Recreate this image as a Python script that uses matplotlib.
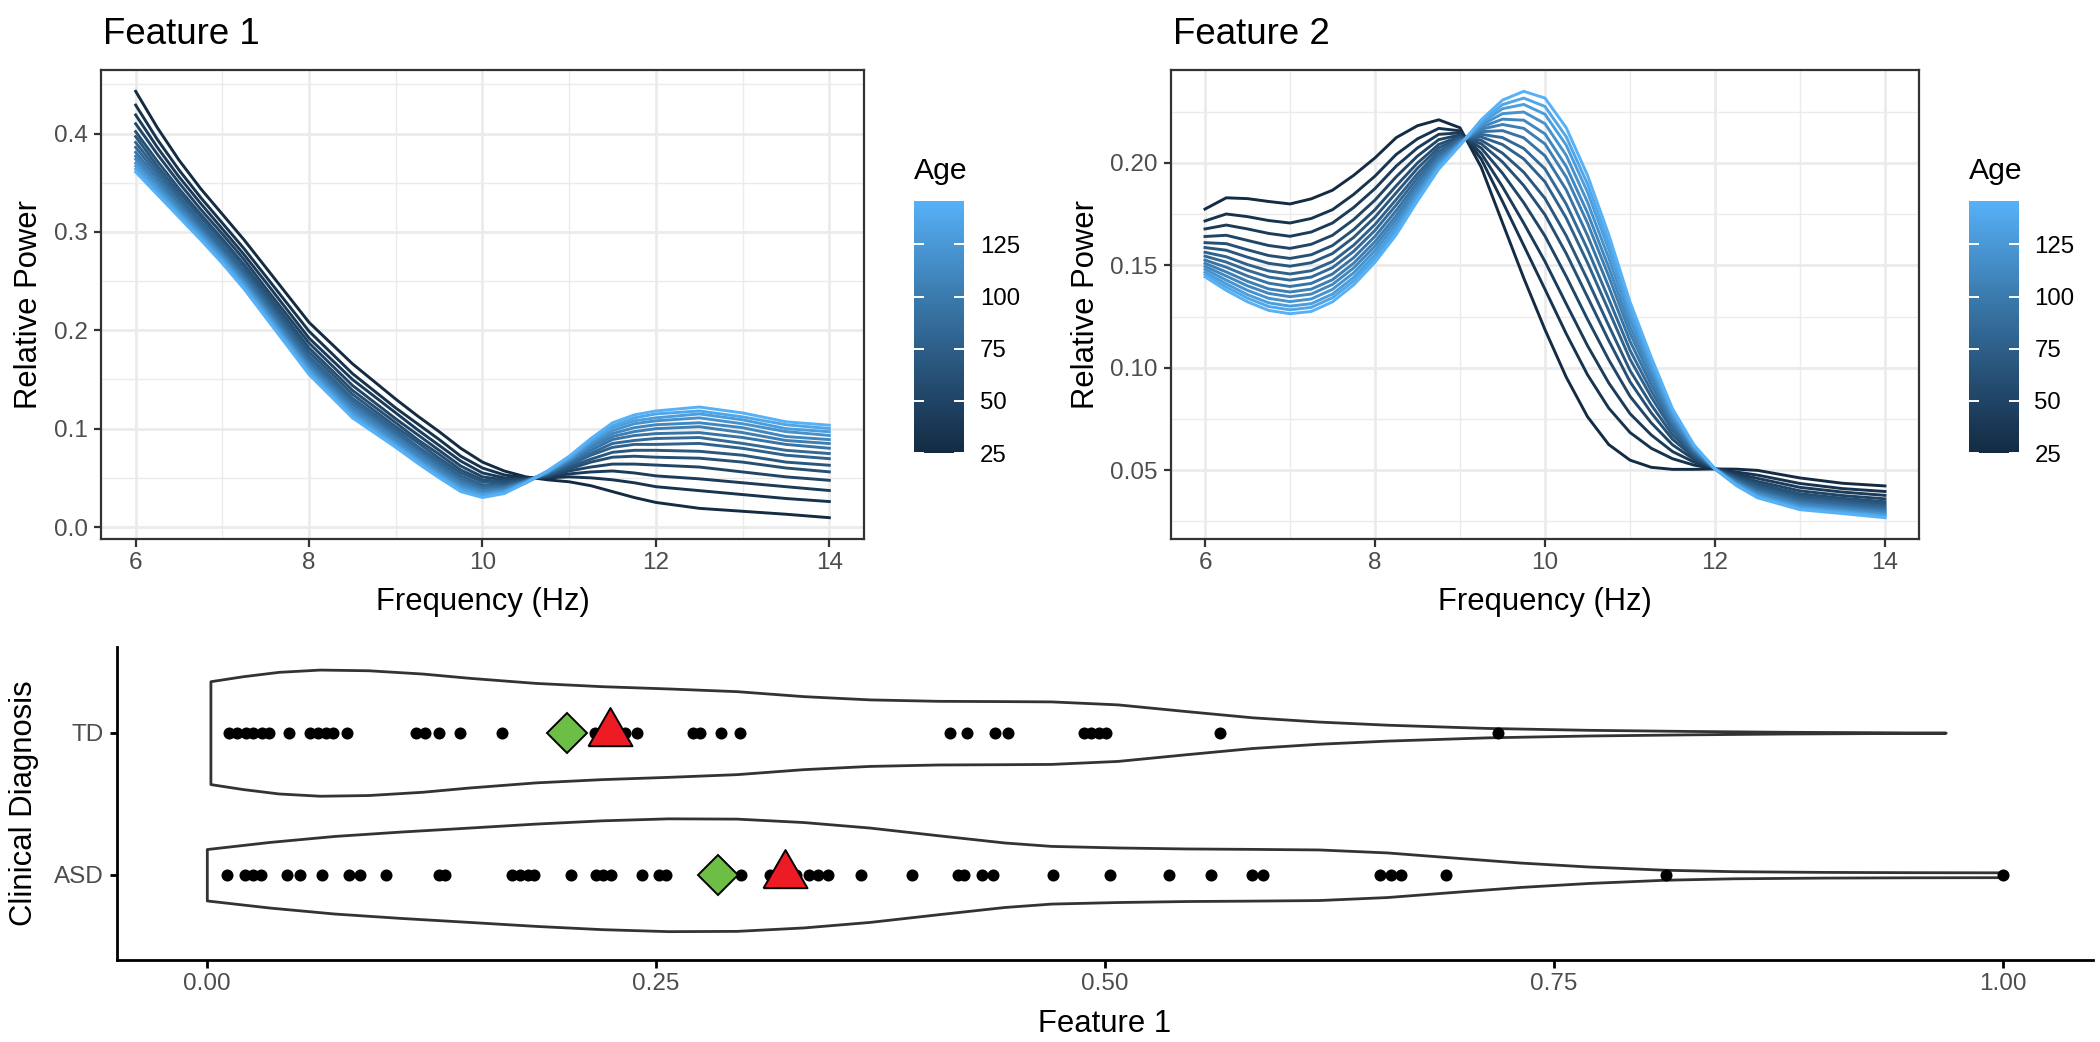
import numpy as np
import matplotlib
matplotlib.use("Agg")
import matplotlib.pyplot as plt
from matplotlib.colors import ListedColormap, Normalize
from matplotlib.cm import ScalarMappable

plt.rcParams['font.family'] = ['Liberation Sans', 'DejaVu Sans']

# ---------------- data ----------------
ages = [25, 34, 42, 51, 60, 68, 77, 85, 94, 103, 111, 120, 129, 137, 146]
age_ticks = [25, 50, 75, 100, 125]

# Feature 1: one row per frequency, one column per age (same order as `ages`)
freq1 = [6, 6.25, 6.5, 6.75, 7, 7.25, 7.5, 8, 8.5, 9, 9.25, 9.5, 9.75, 10, 10.25, 10.5,
         10.75, 11, 11.25, 11.5, 11.75, 12, 12.5, 13, 13.5, 14]
feature1_power = [
    [.443, .429, .419, .410, .402, .397, .391, .386, .381, .377, .374, .370, .367, .364, .361],
    [.406, .394, .386, .379, .372, .367, .363, .359, .355, .351, .349, .346, .343, .340, .338],
    [.373, .363, .356, .350, .344, .340, .336, .333, .329, .326, .324, .321, .319, .317, .315],
    [.344, .335, .329, .323, .318, .315, .311, .308, .305, .302, .300, .298, .296, .294, .292],
    [.318, .309, .303, .298, .293, .290, .286, .283, .280, .278, .276, .274, .272, .270, .268],
    [.292, .283, .277, .272, .267, .264, .260, .257, .255, .252, .250, .248, .246, .244, .242],
    [.264, .255, .249, .243, .239, .235, .231, .229, .226, .223, .221, .219, .217, .215, .213],
    [.208, .199, .192, .187, .182, .178, .174, .171, .168, .165, .163, .161, .159, .157, .155],
    [.166, .156, .150, .144, .139, .135, .131, .128, .125, .122, .120, .117, .115, .113, .111],
    [.130, .121, .116, .110, .106, .102, .099, .096, .093, .091, .089, .086, .084, .083, .081],
    [.113, .105, .099, .094, .089, .086, .082, .080, .077, .075, .072, .070, .068, .067, .065],
    [.097, .089, .083, .078, .074, .070, .067, .064, .062, .059, .057, .055, .053, .052, .050],
    [.080, .072, .067, .062, .058, .055, .052, .049, .047, .045, .043, .041, .039, .038, .036],
    [.066, .060, .055, .051, .048, .046, .043, .041, .039, .037, .036, .034, .033, .031, .030],
    [.057, .053, .050, .048, .046, .044, .042, .041, .040, .039, .038, .037, .036, .035, .034],
    [.051, .050, .049, .049, .048, .048, .047, .047, .047, .046, .046, .046, .045, .045, .045],
    [.048, .050, .051, .052, .052, .053, .054, .054, .055, .055, .056, .056, .056, .057, .057],
    [.046, .051, .054, .057, .059, .061, .063, .064, .066, .067, .068, .069, .070, .071, .072],
    [.042, .050, .056, .061, .066, .069, .073, .075, .078, .081, .083, .085, .087, .088, .090],
    [.036, .048, .057, .064, .071, .076, .081, .085, .089, .092, .095, .098, .101, .103, .106],
    [.030, .045, .055, .064, .072, .078, .084, .088, .093, .097, .101, .105, .108, .111, .114],
    [.025, .041, .052, .063, .071, .078, .084, .090, .095, .100, .104, .108, .111, .115, .118],
    [.019, .037, .049, .061, .070, .077, .085, .091, .096, .102, .106, .111, .115, .118, .122],
    [.016, .033, .045, .056, .066, .073, .080, .085, .091, .096, .101, .105, .109, .112, .116],
    [.013, .029, .041, .051, .060, .066, .073, .078, .084, .088, .092, .097, .100, .104, .107],
    [.0095, .0259, .0371, .0475, .0561, .0628, .0695, .0747, .0801, .0849, .0889, .0931,
     .0969, .1001, .1035],
]

# Feature 2: one row per frequency, one column per age
freq2 = [6, 6.25, 6.5, 6.75, 7, 7.25, 7.5, 7.75, 8, 8.25, 8.5, 8.75, 9, 9.25, 9.5, 9.75,
         10, 10.25, 10.5, 10.75, 11, 11.25, 11.5, 11.75, 12, 12.25, 12.5, 13, 13.5, 14]
feature2_power = [
    [.1775, .1717, .1678, .1641, .1611, .1587, .1564, .1545, .1526, .1510, .1495, .1481, .1467, .1456, .1444],
    [.1830, .1751, .1697, .1647, .1606, .1574, .1542, .1516, .1491, .1468, .1448, .1428, .1410, .1394, .1378],
    [.1826, .1738, .1678, .1622, .1576, .1540, .1504, .1476, .1448, .1422, .1400, .1378, .1357, .1340, .1322],
    [.1812, .1719, .1656, .1597, .1548, .1510, .1473, .1443, .1413, .1385, .1363, .1339, .1317, .1299, .1280],
    [.1800, .1707, .1642, .1583, .1534, .1496, .1458, .1428, .1397, .1370, .1347, .1323, .1301, .1283, .1264],
    [.1825, .1729, .1663, .1603, .1552, .1513, .1474, .1443, .1412, .1384, .1360, .1336, .1313, .1295, .1275],
    [.1867, .1772, .1707, .1647, .1597, .1558, .1519, .1489, .1458, .1430, .1407, .1383, .1360, .1342, .1322],
    [.1940, .1847, .1783, .1724, .1675, .1637, .1599, .1569, .1538, .1511, .1488, .1464, .1442, .1424, .1405],
    [.2025, .1936, .1875, .1819, .1772, .1736, .1700, .1671, .1642, .1616, .1594, .1572, .1551, .1533, .1515],
    [.2124, .2042, .1985, .1933, .1889, .1855, .1822, .1795, .1768, .1744, .1724, .1703, .1683, .1667, .1650],
    [.2182, .2118, .2074, .2034, .2000, .1974, .1948, .1927, .1906, .1888, .1872, .1856, .1841, .1828, .1815],
    [.2211, .2169, .2140, .2114, .2091, .2074, .2057, .2044, .2030, .2018, .2007, .1997, .1987, .1979, .1970],
    [.2172, .2157, .2147, .2137, .2129, .2123, .2117, .2112, .2107, .2103, .2099, .2096, .2092, .2089, .2086],
    [.1979, .2019, .2047, .2073, .2094, .2111, .2127, .2140, .2153, .2165, .2175, .2185, .2195, .2203, .2211],
    [.1708, .1812, .1884, .1950, .2005, .2048, .2090, .2124, .2158, .2188, .2214, .2241, .2265, .2285, .2307],
    [.1438, .1597, .1706, .1806, .1890, .1955, .2020, .2071, .2123, .2169, .2209, .2249, .2286, .2317, .2350],
    [.1186, .1383, .1519, .1643, .1747, .1827, .1908, .1971, .2035, .2093, .2142, .2192, .2238, .2276, .2317],
    [.0954, .1166, .1312, .1446, .1558, .1645, .1731, .1799, .1869, .1931, .1983, .2037, .2087, .2128, .2172],
    [.0761, .0966, .1108, .1237, .1346, .1430, .1513, .1579, .1646, .1707, .1757, .1809, .1858, .1898, .1940],
    [.0625, .0803, .0926, .1039, .1133, .1206, .1279, .1336, .1395, .1447, .1491, .1536, .1578, .1613, .1650],
    [.0549, .0684, .0776, .0861, .0932, .0987, .1042, .1086, .1130, .1169, .1202, .1236, .1268, .1294, .1322],
    [.0514, .0607, .0672, .0731, .0780, .0819, .0857, .0887, .0917, .0945, .0968, .0991, .1013, .1032, .1051],
    [.0504, .0556, .0591, .0624, .0651, .0672, .0693, .0709, .0726, .0741, .0754, .0767, .0779, .0789, .0800],
    [.0504, .0525, .0540, .0553, .0564, .0573, .0581, .0588, .0595, .0601, .0606, .0612, .0617, .0621, .0625],
    [.0506, .0506, .0506, .0506, .0506, .0506, .0506, .0506, .0506, .0506, .0506, .0506, .0506, .0506, .0506],
    [.0505, .0491, .0482, .0473, .0465, .0460, .0454, .0450, .0445, .0441, .0437, .0434, .0431, .0428, .0425],
    [.0499, .0476, .0460, .0445, .0433, .0423, .0414, .0406, .0398, .0392, .0386, .0380, .0374, .0370, .0365],
    [.0462, .0435, .0416, .0399, .0385, .0374, .0363, .0354, .0346, .0338, .0331, .0324, .0318, .0313, .0307],
    [.0436, .0410, .0393, .0376, .0363, .0352, .0342, .0333, .0325, .0317, .0311, .0304, .0298, .0293, .0288],
    [.0423, .0396, .0377, .0360, .0346, .0335, .0324, .0315, .0307, .0299, .0292, .0285, .0279, .0274, .0268],
]

groups = ["ASD", "TD"]
td_points = [0.0122, 0.0169, 0.0216, 0.0258, 0.0305, 0.0344, 0.0457, 0.0572, 0.0619,
             0.0661, 0.0703, 0.0778, 0.1165, 0.1212, 0.1294, 0.1411, 0.1641, 0.2162,
             0.2326, 0.2396, 0.2706, 0.2748, 0.2865, 0.2970, 0.4139, 0.4232, 0.4389,
             0.4460, 0.4882, 0.4924, 0.4967, 0.5006, 0.5639, 0.7187]
asd_points = [0.0111, 0.0213, 0.0256, 0.0299, 0.0444, 0.0516, 0.0640, 0.0793, 0.0853,
              0.0998, 0.1290, 0.1326, 0.1701, 0.1744, 0.1787, 0.1823, 0.2030, 0.2164,
              0.2207, 0.2250, 0.2420, 0.2516, 0.2554, 0.2974, 0.3134, 0.3280, 0.3350,
              0.3400, 0.3460, 0.3641, 0.3923, 0.4179, 0.4213, 0.4313, 0.4377, 0.4708,
              0.5027, 0.5358, 0.5592, 0.5816, 0.5880, 0.6530, 0.6590, 0.6645, 0.6899,
              0.8124, 1.0]
diamond_values = [0.2847, 0.2007]   # ASD, TD
triangle_values = [0.3216, 0.2246]  # ASD, TD

td_violin_x = [0.002, 0.02, 0.04, 0.063, 0.09, 0.12, 0.146, 0.183, 0.22, 0.257, 0.295,
               0.332, 0.369, 0.407, 0.444, 0.47, 0.507, 0.545, 0.582, 0.619, 0.657,
               0.713, 0.769, 0.825, 0.88, 0.93, 0.968]
td_violin_hw = [0.362, 0.397, 0.428, 0.444, 0.439, 0.416, 0.386, 0.350, 0.327, 0.311,
                0.292, 0.257, 0.234, 0.224, 0.222, 0.220, 0.199, 0.152, 0.108, 0.078,
                0.056, 0.033, 0.020, 0.012, 0.006, 0.003, 0.0]
asd_violin_x = [0.0, 0.035, 0.071, 0.108, 0.146, 0.183, 0.22, 0.257, 0.295, 0.332,
                0.369, 0.407, 0.444, 0.47, 0.507, 0.545, 0.582, 0.619, 0.657, 0.694,
                0.731, 0.769, 0.812, 0.85, 0.9, 0.95, 1.0]
asd_violin_hw = [0.181, 0.231, 0.273, 0.304, 0.332, 0.360, 0.383, 0.397, 0.395, 0.371,
                 0.332, 0.278, 0.227, 0.203, 0.192, 0.185, 0.182, 0.178, 0.157, 0.121,
                 0.086, 0.058, 0.035, 0.025, 0.020, 0.018, 0.017]

# ---------------- colours (ggplot2 default gradient, Lab interpolation) ----------------
def _hex(h):
    h = h.lstrip('#')
    return np.array([int(h[i:i + 2], 16) / 255 for i in (0, 2, 4)])

_M = np.array([[0.4124564, 0.3575761, 0.1804375],
               [0.2126729, 0.7151522, 0.0721750],
               [0.0193339, 0.1191920, 0.9503041]])
_WP = np.array([0.95047, 1.0, 1.08883])

def _to_lab(rgb):
    lin = np.where(rgb <= 0.04045, rgb / 12.92, ((rgb + 0.055) / 1.055) ** 2.4)
    xyz = _M @ lin / _WP
    d = 6 / 29
    f = np.where(xyz > d ** 3, np.cbrt(xyz), xyz / (3 * d * d) + 4 / 29)
    return np.array([116 * f[1] - 16, 500 * (f[0] - f[1]), 200 * (f[1] - f[2])])

def _from_lab(lab):
    d = 6 / 29
    fy = (lab[0] + 16) / 116
    f = np.array([fy + lab[1] / 500, fy, fy - lab[2] / 200])
    xyz = np.where(f > d, f ** 3, 3 * d * d * (f - 4 / 29)) * _WP
    lin = np.linalg.inv(_M) @ xyz
    rgb = np.where(lin <= 0.0031308, 12.92 * lin, 1.055 * np.clip(lin, 0, None) ** (1 / 2.4) - 0.055)
    return np.clip(rgb, 0, 1)

lab_lo, lab_hi = _to_lab(_hex('#132B43')), _to_lab(_hex('#56B1F7'))
cmap = ListedColormap([_from_lab(lab_lo + t * (lab_hi - lab_lo)) for t in np.linspace(0, 1, 256)])
norm = Normalize(min(ages), max(ages))

# ---------------- figure ----------------
W, H = 2100, 1042
fig = plt.figure(figsize=(W / 100, H / 100), dpi=100)

def rect(l, t, r, b):
    return [l / W, 1 - b / H, (r - l) / W, (b - t) / H]

def ftext(x, y, s, **kw):
    fig.text(x / W, 1 - y / H, s, **kw)

GRID = '#EBEBEB'
DARK = '#333333'
TICKLAB = '#4D4D4D'

def style_top(ax):
    for s in ax.spines.values():
        s.set_color(DARK)
        s.set_linewidth(1.6)
    ax.grid(which='major', color=GRID, linewidth=2.0)
    ax.grid(which='minor', color=GRID, linewidth=1.0)
    ax.set_axisbelow(True)
    ax.tick_params(which='major', length=5.4, width=1.6, color=DARK, labelsize=17.5,
                   labelcolor=TICKLAB, pad=4.3)
    ax.tick_params(which='minor', length=0)

def draw_panel(ax, freq, table):
    arr = np.array(table)
    for j, a in enumerate(ages):
        ax.plot(freq, arr[:, j], color=cmap(norm(a)), linewidth=2.1,
                solid_joinstyle='round', zorder=3)
    lo, hi = arr.min(), arr.max()
    pad = 0.05 * (hi - lo)
    ax.set_ylim(lo - pad, hi + pad)
    ax.set_xlim(5.6, 14.4)
    ax.set_xticks([6, 8, 10, 12, 14])
    ax.set_xticks([7, 9, 11, 13], minor=True)
    style_top(ax)

ax1 = fig.add_axes(rect(101, 70, 864, 539))
draw_panel(ax1, freq1, feature1_power)
ax1.set_yticks([0, 0.1, 0.2, 0.3, 0.4])
ax1.set_yticklabels(['0.0', '0.1', '0.2', '0.3', '0.4'])
ax1.set_yticks([0.05, 0.15, 0.25, 0.35, 0.45], minor=True)

ax2 = fig.add_axes(rect(1171, 70, 1919, 539))
draw_panel(ax2, freq2, feature2_power)
ax2.set_yticks([0.05, 0.10, 0.15, 0.20])
ax2.set_yticklabels(['0.05', '0.10', '0.15', '0.20'])
ax2.set_yticks([0.025, 0.075, 0.125, 0.175, 0.225], minor=True)

for ax, l, r, title in [(ax1, 101, 864, 'Feature 1'), (ax2, 1171, 1919, 'Feature 2')]:
    ftext(l + 2, 44, title, fontsize=26.4, ha='left', va='baseline', color='black')
    ftext((l + r) / 2, 610, 'Frequency (Hz)', fontsize=22.3, ha='center', va='baseline')

ftext(37.5, 304.5, 'Relative Power', fontsize=22.3, rotation=90, rotation_mode='anchor',
      ha='center', va='baseline')
ftext(1093.5, 304.5, 'Relative Power', fontsize=22.3, rotation=90, rotation_mode='anchor',
      ha='center', va='baseline')

# colourbars
for l in (914, 1968.6):
    cax = fig.add_axes(rect(l, 200.7, l + 50.4, 453))
    cb = fig.colorbar(ScalarMappable(norm=norm, cmap=cmap), cax=cax)
    cb.outline.set_visible(False)
    cb.set_ticks(age_ticks)
    cb.set_ticklabels([str(t) for t in age_ticks])
    cax.minorticks_off()
    cax.tick_params(which='major', direction='in', length=7, width=1.4, color='white',
                    left=True, right=True, labelsize=17.3, labelcolor='black', pad=11)
    ftext(l, 178.6, 'Age', fontsize=21.7, ha='left', va='baseline')

# bottom violin panel
ax3 = fig.add_axes(rect(117, 647.4, 2093, 960))
ax3.set_xlim(-0.05, 1.05)
ax3.set_ylim(0.4, 2.6)
for name in ('top', 'right'):
    ax3.spines[name].set_visible(False)
for name in ('left', 'bottom'):
    ax3.spines[name].set_color('black')
    ax3.spines[name].set_linewidth(2.0)
ax3.tick_params(length=5.4, width=2.0, color='black', labelsize=17.5, labelcolor=TICKLAB, pad=4.3)
ax3.set_xticks([0, 0.25, 0.5, 0.75, 1.0])
ax3.set_xticklabels(['0.00', '0.25', '0.50', '0.75', '1.00'])
ax3.set_yticks([1, 2])
ax3.set_yticklabels(groups)

violins = {'ASD': (asd_violin_x, asd_violin_hw, asd_points),
           'TD': (td_violin_x, td_violin_hw, td_points)}
tri = [(-1, -0.57735), (1, -0.57735), (0, 1.1547), (-1, -0.57735)]
for i, g in enumerate(groups):
    pos = i + 1
    vx, hw, pts = violins[g]
    vx = np.array(vx); hw = np.array(hw)
    ax3.fill_between(vx, pos - hw, pos + hw, facecolor='white', edgecolor=DARK,
                     linewidth=2.0, zorder=2)
    ax3.scatter(pts, [pos] * len(pts), s=75, color='black', linewidths=0, zorder=3)
    ax3.plot([diamond_values[i]], [pos], marker='D', markersize=20, markerfacecolor='#6DBE45',
             markeredgecolor='black', markeredgewidth=1.4, linestyle='none', zorder=4)
    ax3.plot([triangle_values[i]], [pos], marker=tri, markersize=36.6, markerfacecolor='#ED1C24',
             markeredgecolor='black', markeredgewidth=1.4, linestyle='none', zorder=5)

ftext(32, 803.5, 'Clinical Diagnosis', fontsize=22.3, rotation=90, rotation_mode='anchor',
      ha='center', va='baseline')
ftext(1105, 1032, 'Feature 1', fontsize=22.3, ha='center', va='baseline')

fig.savefig('out.png', dpi=100, facecolor='white')
